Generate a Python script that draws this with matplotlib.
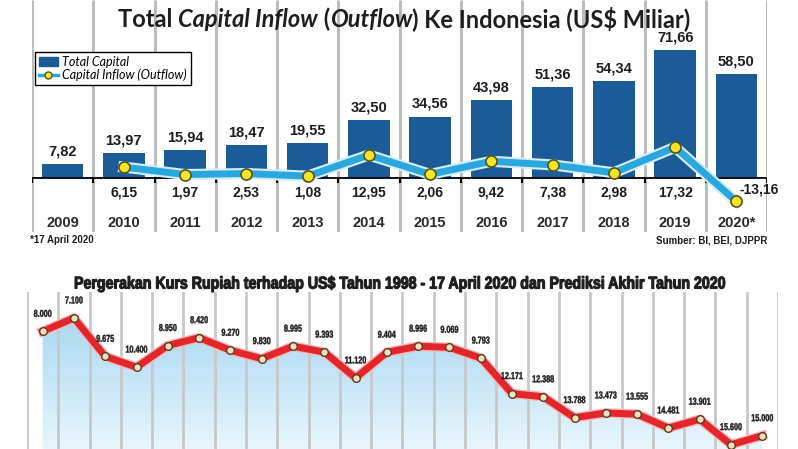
import matplotlib
matplotlib.use("Agg")
import matplotlib.pyplot as plt
import matplotlib.patheffects as pe
from matplotlib.lines import Line2D
from matplotlib.patches import Patch, PathPatch
from matplotlib.colors import LinearSegmentedColormap
from matplotlib.textpath import TextPath
from matplotlib.font_manager import FontProperties
from matplotlib.transforms import Affine2D
import numpy as np

# --- data: total capital & capital inflow (US$ miliar)
years = ["2009", "2010", "2011", "2012", "2013", "2014", "2015", "2016",
         "2017", "2018", "2019", "2020*"]
total_capital = [7.82, 13.97, 15.94, 18.47, 19.55, 32.50, 34.56, 43.98,
                 51.36, 54.34, 71.66, 58.50]
capital_flow = [6.15, 1.97, 2.53, 1.08, 12.95, 2.06, 9.42, 7.38, 2.98,
                17.32, -13.16]  # 2010 .. 2020*

# --- data: kurs rupiah per US$
kurs_periods = ["1998", "1999", "2000", "2001", "2002", "2003", "2004", "2005",
                "2006", "2007", "2008", "2009", "2010", "2011", "2012", "2013",
                "2014", "2015", "2016", "2017", "2018", "2019",
                "17 Apr 2020", "Prediksi 2020"]
kurs = [8000, 7100, 9675, 10400, 8950, 8420, 9270, 9830, 8995, 9393, 11120,
        9404, 8996, 9069, 9793, 12171, 12388, 13788, 13473, 13555, 14481,
        13901, 15600, 15000]

SANS = ["Liberation Sans", "DejaVu Sans"]
TITLE = ["Lato", "DejaVu Sans"]
DARK = "#1e1e1e"

W, H = 798, 449
fig = plt.figure(figsize=(7.98, 4.49), dpi=100)


def box(x0, y0, x1, y1):
    return [x0 / W, 1 - y1 / H, (x1 - x0) / W, (y1 - y0) / H]


def idr(v):
    return f"{v:,.2f}".replace(".", ",")


def squeezed(xc, yc, s, size, sx=0.8, width=None, color=DARK, edge=0.0):
    # condensed bold text drawn as a path, centred on pixel (xc, yc)
    tp = TextPath((0, 0), s, size=size,
                  prop=FontProperties(family=SANS, weight="bold"))
    ext = tp.get_extents()
    if width is not None:
        sx = width / ext.width
    tr = (Affine2D().translate(-(ext.x0 + ext.x1) / 2, -(ext.y0 + ext.y1) / 2)
          .scale(sx, 1).translate(xc, H - yc))
    fig.add_artist(PathPatch(tp, transform=tr, facecolor=color,
                             edgecolor=color, lw=edge, zorder=6))


# ---------------- top chart ----------------
ax1 = fig.add_axes(box(32, 0, 767, 232))
ax1.axis("off")
ax1.set_xlim(-0.5, 11.5)
ax1.set_ylim(-30.3, 100)

x = np.arange(len(years))
seps = np.arange(len(years) + 1) - 0.5
ax1.vlines(seps, -30.3, 100, color="#bcbcbc", lw=2.2, zorder=0)
ax1.vlines(seps, -2.5, 0, color="black", lw=1.5, zorder=3)
ax1.plot([-0.5, 11.5], [0, 0], color="black", lw=1.3, zorder=3)

ax1.bar(x, total_capital, width=0.68, color="#1b5c98", zorder=2)
for i, v in enumerate(total_capital):
    ax1.annotate(idr(v), (i, v), xytext=(0, 4), textcoords="offset points",
                 ha="center", va="bottom", fontsize=10.5, fontweight="bold",
                 family=SANS, color=DARK)

xf = x[1:]
ax1.plot(xf, capital_flow, color="#2aa7df", lw=5, zorder=4,
         solid_joinstyle="round",
         path_effects=[pe.Stroke(linewidth=8, foreground="#d3edf9"), pe.Normal()])
ax1.plot(xf, capital_flow, ls="none", marker="o", ms=8, mfc="#f2e52b",
         mec="#55551a", mew=1.2, zorder=5)
for i, v in zip(xf, capital_flow):
    if v < 0:
        ax1.text(i + 0.37, -6.7, idr(v), ha="center", va="center",
                 fontsize=10, fontweight="bold", family=SANS, color=DARK)
    else:
        ax1.text(i, -7.9, idr(v), ha="center", va="center", fontsize=10,
                 fontweight="bold", family=SANS, color=DARK)

for i, y in enumerate(years):
    ax1.text(i, -25.3, y, ha="center", va="center", fontsize=10.5,
             fontweight="bold", family=SANS, color="#2a2a2a")

handles = [Patch(color="#1b5c98"),
           Line2D([], [], color="#2aa7df", lw=2.5, marker="o", ms=5,
                  mfc="#f2e52b", mec="#55551a")]
leg = ax1.legend(handles, ["Total Capital", "Capital Inflow (Outflow)"],
                 loc="upper left", bbox_to_anchor=(35 / W, 1 - 52 / H),
                 bbox_transform=fig.transFigure, borderaxespad=0,
                 fancybox=False, framealpha=1, edgecolor="black",
                 handlelength=1.5, handletextpad=0.4, labelspacing=0.05,
                 borderpad=0.3,
                 prop={"style": "italic", "size": 9, "family": TITLE})
leg.get_frame().set_linewidth(1.0)
leg.set_zorder(10)

# title with italic pieces
pieces = [("Total ", "normal"), ("Capital Inflow", "italic"), (" (", "normal"),
          ("Outflow", "italic"), (") Ke Indonesia (US$ Miliar)", "normal")]
prev = ax1.annotate(pieces[0][0], xy=(118 / W, 1 - 27 / H),
                    xycoords="figure fraction", fontsize=17, fontweight="bold",
                    style=pieces[0][1], family=TITLE, color=DARK,
                    va="baseline", ha="left", annotation_clip=False)
for txt, st in pieces[1:]:
    prev = ax1.annotate(txt, xy=(1, 0), xycoords=prev, fontsize=17,
                        fontweight="bold", style=st, family=TITLE, color=DARK,
                        va="bottom", ha="left", annotation_clip=False)

fig.text(30 / W, 1 - 240 / H, "*17 April 2020", fontsize=7,
         family=SANS, fontweight="bold", color=DARK, va="center")
fig.text(767 / W, 1 - 240 / H, "Sumber: BI, BEI, DJPPR", fontsize=7,
         family=SANS, fontweight="bold", color=DARK, va="center", ha="right")

# ---------------- bottom chart ----------------
squeezed(400, 284,
         "Pergerakan Kurs Rupiah terhadap US$ Tahun 1998 - 17 April 2020 "
         "dan Prediksi Akhir Tahun 2020", size=17, width=650, edge=0.8)

ax2 = fig.add_axes(box(27, 292, 778, 449))
ax2.axis("off")
xk = np.arange(len(kurs))

poly = ax2.fill_between(xk, kurs, 17000, color="none", lw=0)
grad = np.linspace(0, 1, 256).reshape(-1, 1)
cmap = LinearSegmentedColormap.from_list("sky", ["#a4d6f0", "#eef8fd"])
im = ax2.imshow(grad, extent=(-0.5, 23.5, 16500, 6500), cmap=cmap,
                aspect="auto", zorder=1)
im.set_clip_path(poly.get_paths()[0], transform=ax2.transData)

ax2.vlines(np.arange(len(kurs) + 1) - 0.5, 5000, 17000, color="#c8c8c8",
           lw=2, zorder=2)
ax2.plot(xk, kurs, color="#e3262b", lw=5, zorder=3, solid_joinstyle="round",
         path_effects=[pe.Stroke(linewidth=7, foreground="#f2b8b8"),
                       pe.Normal()])
ax2.plot(xk, kurs, ls="none", marker="o", ms=5.5, mfc="#f1dfbf",
         mec="#5a3d1e", mew=1, zorder=4)
ax2.set_xlim(-0.5, 23.5)
ax2.set_ylim(15892, 5355)

# value labels, ~18 px above each point
to_px = ax2.transData
for i, v in enumerate(kurs):
    px, py = to_px.transform((i, v))
    squeezed(px, H - py - 18, f"{v:,}".replace(",", "."), size=10, sx=0.72,
             edge=0.3)

fig.savefig("out.png", dpi=100)
